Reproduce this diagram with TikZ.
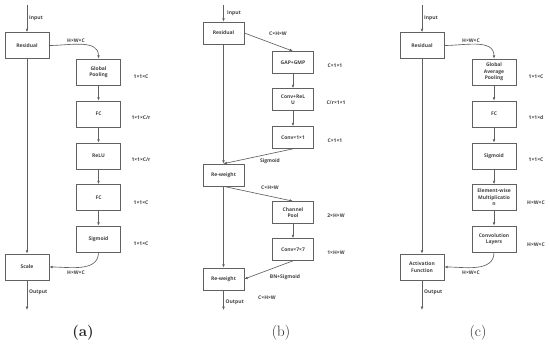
\documentclass[tikz,border=0pt]{standalone}
\usepackage{fontspec}
\newfontfamily\boxfont{Open Sans}
\usetikzlibrary{arrows.meta}

\tikzset{
  blocco/.style={draw=black!62, line width=0.65pt, minimum width=44pt,
    minimum height=26pt, inner sep=1pt, align=center, text=black!75,
    font=\boxfont\bfseries\fontsize{5}{6.4}\selectfont},
  bloccob/.style={blocco, minimum width=41pt, minimum height=22pt},
  dim/.style={text=black!75, inner sep=0pt,
    font=\boxfont\bfseries\fontsize{5}{6.4}\selectfont},
  freccia/.style={draw=black!62, line width=0.65pt,
    -{Latex[length=3.4pt,width=2.8pt]}},
  didascalia/.style={font=\fontsize{15}{17}\selectfont, text=black!85}
}

\begin{document}
\begin{tikzpicture}[x=1pt, y=-1pt]
  \useasboundingbox (0,0) rectangle (550,347);

  % pannello (a)
  \coordinate (inA) at (27,5);
  \coordinate (outA) at (27,310);
  \node[blocco] (resA) at (27,45.5) {Residual};
  \node[blocco] (gpA) at (98.5,72) {Global\\Pooling};
  \node[blocco] (fc1A) at (98.5,114) {FC};
  \node[blocco] (reluA) at (98.5,156) {ReLU};
  \node[blocco] (fc2A) at (98.5,197.5) {FC};
  \node[blocco] (sigA) at (98.5,239) {Sigmoid};
  \node[blocco] (scaleA) at (27,267) {Scale};

  \draw[freccia] (inA) -- (resA);
  \draw[freccia] (resA) -- (scaleA);
  \draw[freccia] (scaleA) -- (outA);
  \draw[freccia] (resA.east) to[out=0, in=90] (gpA.north);
  \draw[freccia] (gpA) -- (fc1A);
  \draw[freccia] (fc1A) -- (reluA);
  \draw[freccia] (reluA) -- (fc2A);
  \draw[freccia] (fc2A) -- (sigA);
  \draw[freccia] (sigA.south) to[out=-90, in=0] (scaleA.east);

  \node[dim, anchor=west] (inlA) at (29,18) {Input};
  \node[dim] (d1A) at (76,41) {H×W×C};
  \node[dim] (d2A) at (141,77) {1×1×C};
  \node[dim] (d3A) at (141,118) {1×1×C/r};
  \node[dim] (d4A) at (141,160) {1×1×C/r};
  \node[dim] (d5A) at (141,203) {1×1×C};
  \node[dim] (d6A) at (141,244) {1×1×C};
  \node[dim] (d7A) at (76,273) {H×W×C};
  \node[dim, anchor=west] (outlA) at (29,292) {Output};
  \node[didascalia, font=\fontsize{15}{17}\selectfont\bfseries] (capA) at (83,333) {(a)};

  % pannello (b)
  \coordinate (inB) at (223.5,5);
  \coordinate (outB) at (223.5,310);
  \node[bloccob] (resB) at (223.5,33) {Residual};
  \node[bloccob] (gapB) at (293,62.5) {GAP+GMP};
  \node[bloccob] (convrB) at (293,99.5) {Conv+ReL\\U};
  \node[bloccob] (conv1B) at (293,137.5) {Conv×1×1};
  \node[bloccob] (rw1B) at (223.5,175) {Re-weight};
  \node[bloccob] (cpB) at (293,212.5) {Channel\\Pool};
  \node[bloccob] (conv7B) at (293,249.5) {Conv×7×7};
  \node[bloccob] (rw2B) at (223.5,279) {Re-weight};

  \draw[freccia] (inB) -- (resB);
  \draw[freccia] (resB) -- (rw1B);
  \draw[freccia] (rw1B) -- (rw2B);
  \draw[freccia] (rw2B) -- (outB);
  \draw[freccia] (resB.east) -- (gapB.north);
  \draw[freccia] (gapB) -- (convrB);
  \draw[freccia] (convrB) -- (conv1B);
  \draw[freccia] (conv1B.south) -- (rw1B.north);
  \draw[freccia] (rw1B.south) -- (cpB.north);
  \draw[freccia] (cpB) -- (conv7B);
  \draw[freccia] (conv7B.south) -- (rw2B.east);

  \node[dim, anchor=west] (inlB) at (227,13) {Input};
  \node[dim] (d1B) at (278,34) {C×H×W};
  \node[dim] (d2B) at (335,66) {C×1×1};
  \node[dim] (d3B) at (336,103) {C/r×1×1};
  \node[dim] (d4B) at (335,141) {C×1×1};
  \node[dim] (sgB) at (270,161) {Sigmoid};
  \node[dim] (d5B) at (270,188) {C×H×W};
  \node[dim] (d6B) at (336,216) {2×H×W};
  \node[dim] (d7B) at (336,253) {1×H×W};
  \node[dim] (bnB) at (285,277) {BN+Sigmoid};
  \node[dim, anchor=west] (outlB) at (225.5,302) {Output};
  \node[dim] (d8B) at (267,298) {C×H×W};
  \node[didascalia] (capB) at (281,333) {(b)};

  % pannello (c)
  \coordinate (inC) at (422,5);
  \coordinate (outC) at (422,310);
  \node[blocco] (resC) at (422,45.5) {Residual};
  \node[blocco] (gapC) at (494,72) {Global\\Average\\Pooling};
  \node[blocco] (fcC) at (494,114) {FC};
  \node[blocco] (sigC) at (494,156) {Sigmoid};
  \node[blocco] (ewmC) at (494,197.5) {Element-wise\\Multiplicatio\\n};
  \node[blocco] (convC) at (494,239) {Convolution\\Layers};
  \node[blocco] (actC) at (422,267) {Activation\\Function};

  \draw[freccia] (inC) -- (resC);
  \draw[freccia] (resC) -- (actC);
  \draw[freccia] (actC) -- (outC);
  \draw[freccia] (resC.east) to[out=0, in=90] (gapC.north);
  \draw[freccia] (gapC) -- (fcC);
  \draw[freccia] (fcC) -- (sigC);
  \draw[freccia] (sigC) -- (ewmC);
  \draw[freccia] (ewmC) -- (convC);
  \draw[freccia] (convC.south) to[out=-90, in=0] (actC.east);

  \node[dim, anchor=west] (inlC) at (424,18) {Input};
  \node[dim] (d1C) at (471,41) {H×W×C};
  \node[dim] (d2C) at (536,77) {1×1×C};
  \node[dim] (d3C) at (536,118) {1×1×d};
  \node[dim] (d4C) at (536,160) {1×1×C};
  \node[dim] (d5C) at (536,203) {H×W×C};
  \node[dim] (d6C) at (536,245) {H×W×C};
  \node[dim] (d7C) at (471,273) {H×W×C};
  \node[dim, anchor=west] (outlC) at (424,292) {Output};
  \node[didascalia] (capC) at (478,333) {(c)};
\end{tikzpicture}
\end{document}
